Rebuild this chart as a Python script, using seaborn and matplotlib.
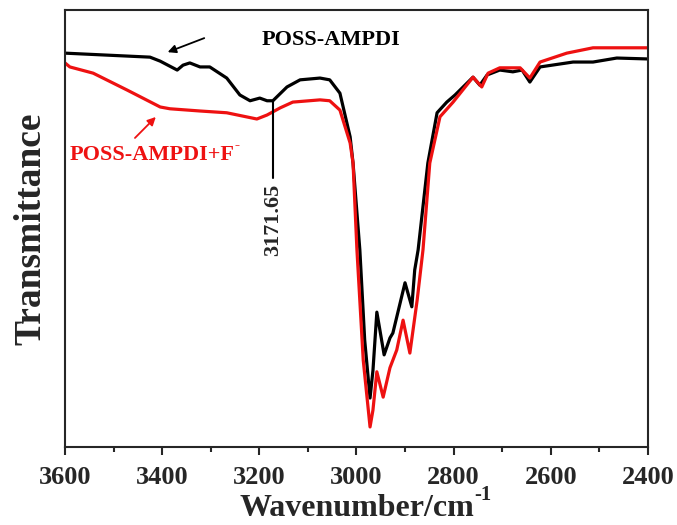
import numpy as np
import pandas as pd
import matplotlib
matplotlib.use("Agg")
import matplotlib.pyplot as plt
import seaborn as sns

# ---- data ----
wn_black = [3600, 3425, 3404, 3369, 3357, 3343, 3322, 3302, 3267, 3240, 3219, 3199, 3184, 3172,
            3143, 3116, 3075, 3055, 3034, 3013, 3007, 2993, 2983, 2972, 2966, 2958, 2943, 2931,
            2925, 2900, 2886, 2880, 2873, 2853, 2834, 2814, 2797, 2760, 2746, 2731, 2705, 2678,
            2659, 2643, 2622, 2554, 2513, 2464, 2402]
tr_black = [90.3, 89.4, 88.5, 86.5, 87.6, 88.1, 87.2, 87.2, 84.7, 80.9, 79.6, 80.2, 79.6, 79.6,
            82.7, 84.3, 84.7, 84.3, 81.3, 71.5, 65.6, 46.1, 25.8, 12.8, 19.0, 32.1, 22.5, 26.3,
            27.4, 38.7, 33.3, 41.6, 46.1, 65.6, 76.9, 79.3, 80.9, 84.9, 83.1, 85.4, 86.5, 86.1,
            86.5, 83.8, 87.2, 88.3, 88.3, 89.2, 89.0]

wn_red = [3600, 3590, 3542, 3472, 3404, 3384, 3322, 3267, 3205, 3184, 3157, 3131, 3075, 3055,
          3034, 3013, 3007, 2999, 2986, 2972, 2966, 2958, 2945, 2931, 2917, 2904, 2890, 2875,
          2863, 2849, 2828, 2801, 2760, 2742, 2729, 2705, 2663, 2643, 2622, 2567, 2513, 2458, 2402]
tr_red = [88.1, 87.2, 85.8, 82.0, 78.2, 77.8, 77.3, 76.9, 75.5, 76.4, 78.0, 79.3, 79.8, 79.6,
          77.5, 70.1, 65.6, 46.1, 21.3, 6.3, 10.1, 18.7, 13.0, 19.6, 23.6, 30.3, 22.9, 34.8,
          46.1, 65.6, 76.0, 79.3, 84.9, 82.7, 85.8, 87.0, 87.0, 84.7, 88.3, 90.3, 91.5, 91.5, 91.5]

x_ticks = [3600, 3400, 3200, 3000, 2800, 2600, 2400]
x_minor = [3500, 3300, 3100, 2900, 2700, 2500]
peak_label = "3171.65"
peak_wn = 3171.65

df_black = pd.DataFrame({"wn": wn_black, "T": tr_black})
df_red = pd.DataFrame({"wn": wn_red, "T": tr_red})

sns.set_style("ticks")
plt.rcParams["font.family"] = ["Liberation Serif", "DejaVu Serif"]
plt.rcParams["font.weight"] = "bold"
plt.rcParams["mathtext.fontset"] = "stix"

RED = "#ee1111"

fig = plt.figure(figsize=(6.77, 5.25), dpi=100)
ax = fig.add_axes([0.096, 0.1486, 0.861, 0.8324])

sns.lineplot(data=df_black, x="wn", y="T", ax=ax, color="black", lw=2.3, sort=False)
sns.lineplot(data=df_red, x="wn", y="T", ax=ax, color=RED, lw=2.3, sort=False)

ax.set_xlim(3600, 2400)
ax.set_ylim(1.8, 100)
ax.set_xticks(x_ticks)
ax.set_xticks(x_minor, minor=True)
ax.set_yticks([])
ax.tick_params(axis="x", which="major", direction="out", length=6, width=1.5,
               labelsize=19, pad=8)
ax.tick_params(axis="x", which="minor", direction="out", length=3.5, width=1.5)
for lab in ax.get_xticklabels():
    lab.set_fontweight("bold")
for s in ax.spines.values():
    s.set_linewidth(1.5)
    s.set_visible(True)

ax.set_xlabel("Wavenumber/cm", fontsize=23, fontweight="bold", labelpad=3)
ax.annotate("-1", xy=(1.0, 0.6), xycoords=ax.xaxis.label, fontsize=15,
            fontweight="bold", ha="left", va="bottom")
ax.set_ylabel("Transmittance", fontsize=27, fontweight="bold", labelpad=12)

# annotations
ax.text(3195, 93.3, "POSS-AMPDI", fontsize=16, fontweight="bold", color="black",
        ha="left", va="center")
ax.annotate("", xy=(3394, 90.3), xytext=(3308, 93.9),
            arrowprops=dict(arrowstyle="-|>", color="black", lw=1.3, mutation_scale=12))
t_red = ax.text(3590, 67.4, "POSS-AMPDI+F", fontsize=16, fontweight="bold",
                color=RED, ha="left", va="center")
ax.annotate("-", xy=(1.0, 0.65), xycoords=t_red, fontsize=11, fontweight="bold",
            color=RED, ha="left", va="bottom")
ax.annotate("", xy=(3409, 76.4), xytext=(3460, 70.8),
            arrowprops=dict(arrowstyle="-|>", color=RED, lw=1.3, mutation_scale=12))
ax.plot([peak_wn, peak_wn], [79.6, 62.2], color="black", lw=1.5)
ax.text(peak_wn, 61.0, peak_label, rotation=90, fontsize=16, fontweight="bold",
        ha="center", va="top")

fig.savefig("out.png", dpi=100)
